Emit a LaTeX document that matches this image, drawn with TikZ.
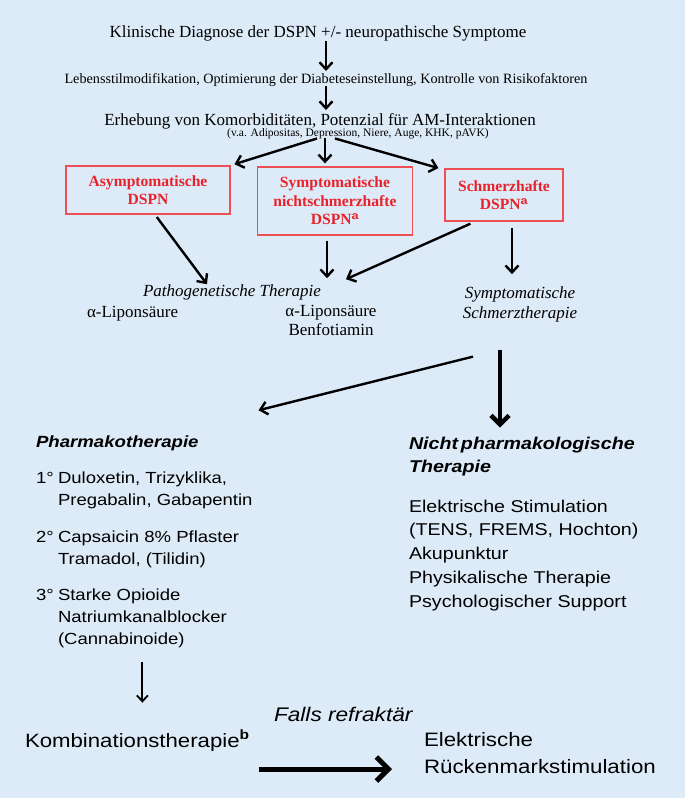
\documentclass[tikz,border=0pt]{standalone}
\usepackage{fontspec}
\setmainfont{Liberation Serif}
\setsansfont{Liberation Sans}[FakeStretch=1.15]
\usetikzlibrary{arrows.meta}
\definecolor{bgblue}{RGB}{221,235,248}
\definecolor{boxred}{RGB}{232,34,42}
\definecolor{boxedge}{RGB}{236,80,84}
\newcommand{\fs}[2]{\fontsize{#1}{#2}\selectfont}

\begin{document}
\begin{tikzpicture}[x=1pt,y=-1pt,
    txt/.style={inner sep=0pt, outer sep=0pt},
    redbox/.style={draw=boxedge, line width=1.3pt, text=boxred, align=center,
        inner sep=0pt, font=\bfseries\fs{15.6}{18.5}},
    flow/.style={-{Straight Barb[length=7pt,width=13pt]}, line width=2.4pt},
    thinflow/.style={-{Straight Barb[length=6pt,width=11pt]}, line width=1.8pt},
    thickflow/.style={-{Straight Barb[length=9pt,width=18pt]}, line width=4.5pt},
    bigflow/.style={-{Straight Barb[length=12pt,width=24pt]}, line width=5pt}]

    \fill[bgblue] (0,0) rectangle (685,798);
    \useasboundingbox (0,0) rectangle (685,798);

    % Diagnose und Basismassnahmen
    \node[txt, anchor=base, font=\fs{17}{20}] (diag) at (318,37)
        {Klinische Diagnose der DSPN +/- neuropathische Symptome};
    \node[txt, anchor=base, font=\fs{14.2}{16}] (life) at (326,83)
        {Lebensstilmodifikation, Optimierung der Diabeteseinstellung, Kontrolle von Risikofaktoren};
    \node[txt, anchor=base, font=\fs{17}{20}] (komorb) at (320,125)
        {Erhebung von Komorbiditäten, Potenzial für AM-Interaktionen};
    \node[txt, anchor=base, font=\fs{11.5}{13}] (komorbsub) at (358,136)
        {(v.a. Adipositas, Depression, Niere, Auge, KHK, pAVK)};

    \draw[flow, shorten >=2pt] (diag.south -| life.north) -- (life.north);
    \draw[flow, shorten >=3pt] (life.south) -- (life.south |- komorb.north);

    % Formen der DSPN
    \node[redbox, minimum width=164pt, minimum height=48pt] (asym) at (148,190)
        {Asymptomatische\\DSPN};
    \node[redbox, minimum width=155pt, minimum height=68pt] (symp) at (335,201)
        {Symptomatische\\nichtschmerzhafte\\DSPN\textsuperscript{\sffamily a}};
    \node[redbox, minimum width=118pt, minimum height=52pt] (schmerz) at (504,195)
        {Schmerzhafte\\DSPN\textsuperscript{\sffamily a}};

    \draw[flow, shorten >=4pt] ([xshift=-41pt]komorbsub.south) -- (asym.north east);
    \draw[flow, shorten >=3pt] ([xshift=-33pt]komorbsub.south) -- ([xshift=-33pt]komorbsub.south |- symp.north);
    \draw[flow, shorten >=1pt] ([xshift=-23pt]komorbsub.south) -- ([xshift=-5pt]schmerz.north west);

    % Therapieziele (mehrzeilige Knoten: Basislinie der letzten Zeile)
    \node[txt, anchor=base west, font=\itshape\fs{17}{20}] (patho) at (143,296)
        {Pathogenetische Therapie};
    \node[txt, anchor=base west, font=\fs{17}{20}] (lipoA) at (87,317) {α-Liponsäure};
    \node[txt, anchor=base, align=center, font=\fs{17}{18.5}] (lipoB) at (331,335)
        {α-Liponsäure\\Benfotiamin};
    \node[txt, anchor=base, align=center, font=\itshape\fs{17}{20}] (symther) at (520,318)
        {Symptomatische\\Schmerztherapie};

    \draw[flow, shorten <=3pt] ([xshift=7pt]asym.south) -- ([xshift=-25pt]patho.north);
    \draw[flow, shorten <=5pt, shorten >=6pt] ([xshift=-8pt]symp.south) -- ([xshift=-8pt]symp.south |- patho.north);
    \draw[flow, shorten <=5pt] ([xshift=-29pt]schmerz.south) -- ([shift={(25pt,5pt)}]patho.north east);
    \draw[flow, shorten <=6pt, shorten >=12pt] ([xshift=8pt]schmerz.south) -- ([xshift=8pt]schmerz.south |- symther.north);

    % Pharmakotherapie
    \node[txt, anchor=base west, font=\sffamily\bfseries\itshape\fs{16.2}{20}] (pharma) at (36,447)
        {Pharmakotherapie};
    \node[txt, anchor=base west, font=\sffamily\fs{16.1}{22}] (stufeA) at (36,483) {1°};
    \node[txt, anchor=base west, align=left, font=\sffamily\fs{16.1}{22}] (listA) at (58,505)
        {Duloxetin, Trizyklika,\\Pregabalin, Gabapentin};
    \node[txt, anchor=base west, font=\sffamily\fs{16.1}{22}] (stufeB) at (36,542) {2°};
    \node[txt, anchor=base west, align=left, font=\sffamily\fs{16.1}{22}] (listB) at (58,564)
        {Capsaicin 8\% Pflaster\\Tramadol, (Tilidin)};
    \node[txt, anchor=base west, font=\sffamily\fs{16.1}{22}] (stufeC) at (36,600) {3°};
    \node[txt, anchor=base west, align=left, font=\sffamily\fs{16.1}{22}] (listC) at (58,644)
        {Starke Opioide\\Natriumkanalblocker\\(Cannabinoide)};

    % Nichtpharmakologische Therapie
    \node[txt, anchor=base west, align=left, font=\sffamily\bfseries\itshape\fs{17.1}{23}] (nicht) at (409,472)
        {Nicht\,pharmakologische\\Therapie};
    \node[txt, anchor=base west, align=left, font=\sffamily\fs{17.1}{23.7}] (nichtlist) at (409,607)
        {Elektrische Stimulation\\(TENS, FREMS, Hochton)\\Akupunktur\\Physikalische Therapie\\Psychologischer Support};

    \draw[flow] ([shift={(-47pt,-35pt)}]symther.south) -- ([shift={(60pt,25pt)}]pharma.north east);
    \draw[thickflow, shorten >=9pt] ([shift={(-20pt,-28pt)}]symther.south) -- ([xshift=-20pt]symther.south |- nicht.north);

    % Eskalation
    \node[txt, anchor=base west, font=\sffamily\fs{19.3}{23}] (kombi) at (25,747)
        {Kombinationstherapie\textsuperscript{\bfseries b}};
    \node[txt, anchor=base west, font=\sffamily\itshape\fs{19.7}{23}] (falls) at (274,721)
        {Falls refraktär};
    \node[txt, anchor=base west, align=left, font=\sffamily\fs{19.4}{27}] (scs) at (424,773)
        {Elektrische\\Rückenmarkstimulation};

    \draw[thinflow, shorten <=15pt, shorten >=27pt] (listC.south) -- (listC.south |- kombi.north);
    \draw[bigflow] ([shift={(9pt,-22pt)}]kombi.base east) -- ([shift={(-32pt,4pt)}]scs.base west);
\end{tikzpicture}
\end{document}
